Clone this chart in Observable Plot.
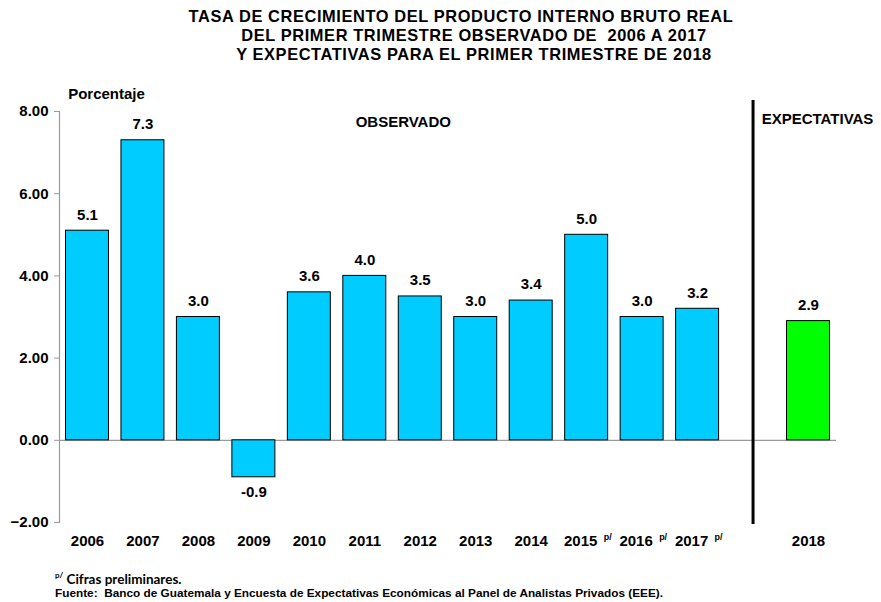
<!DOCTYPE html>
<html><head><meta charset="utf-8">
<script src="https://cdn.jsdelivr.net/npm/d3@7"></script>
<script src="https://cdn.jsdelivr.net/npm/@observablehq/plot@0.6"></script>
<style>
body{margin:0;background:#fff;font-family:"Liberation Sans",Arial,sans-serif;width:881px;height:602px;overflow:hidden;}
#title{height:66px;box-sizing:border-box;padding-top:7px;font-weight:bold;font-size:16.4px;line-height:19px;letter-spacing:0.6px;color:#000;}
#title div{text-align:center;white-space:pre;}
#chart svg{display:block;}
#caption{padding-left:55px;padding-top:12px;color:#000;font-weight:bold;}
#caption .l1{font-family:Lato,"Liberation Sans",sans-serif;font-size:13.5px;line-height:14px;}
#caption .l1 sup{font-size:8px;}
#caption .l2{font-size:11.8px;line-height:14px;}
</style>
</head><body>
<div id="title">
<div style="padding-left:41px">TASA DE CRECIMIENTO DEL PRODUCTO INTERNO BRUTO REAL</div>
<div style="padding-left:67px">DEL PRIMER TRIMESTRE OBSERVADO DE  2006 A 2017</div>
<div style="padding-left:67px">Y EXPECTATIVAS PARA EL PRIMER TRIMESTRE DE 2018</div>
</div>
<div id="chart"></div>
<div id="caption">
<div class="l1"><sup>p/</sup> Cifras preliminares.</div>
<div class="l2">Fuente:&nbsp; Banco de Guatemala y Encuesta de Expectativas Económicas al Panel de Analistas Privados (EEE).</div>
</div>
<script>
const years = ["2006","2007","2008","2009","2010","2011","2012","2013","2014","2015","2016","2017"];
const observed = [5.1, 7.3, 3.0, -0.9, 3.6, 4.0, 3.5, 3.0, 3.4, 5.0, 3.0, 3.2];
const expYears = ["2018"];
const expected = [2.9];
const preliminary = ["2015","2016","2017"];
const gapSlot = " ";
const yTicks = [-2, 0, 2, 4, 6, 8];

const obsData = years.map((y, i) => ({year: y, value: observed[i]}));
const expData = expYears.map((y, i) => ({year: y, value: expected[i]}));
const allData = [...obsData, ...expData];
const labelYears = [...years, ...expYears];

const font = "Liberation Sans, Arial, sans-serif";
const chart = Plot.plot({
  width: 881, height: 490,
  marginTop: 45, marginBottom: 34, marginLeft: 59, marginRight: 45,
  x: {domain: [...years, gapSlot, ...expYears], paddingInner: 0.225, paddingOuter: 0.117, round: false, axis: null},
  y: {domain: [-2, 8], axis: null},
  style: {fontFamily: font, fontWeight: "bold", fontSize: "15px", color: "#000", background: "#fff"},
  marks: [
    Plot.ruleY([0], {stroke: "#9a9a9a", strokeWidth: 1.2}),
    Plot.barY(obsData, {x: "year", y: "value", fill: "#00CCFF", stroke: "#000", strokeWidth: 1}),
    Plot.barY(expData, {x: "year", y: "value", fill: "#00FF00", stroke: "#000", strokeWidth: 1}),
    Plot.axisY({ticks: yTicks, tickFormat: d3.format(".2f"), tickSize: 5, tickPadding: 6, stroke: "#9a9a9a", fill: "#000", fontSize: 15, fontWeight: "bold", label: null}),
    Plot.frame({anchor: "left", stroke: "#9a9a9a", strokeWidth: 1.2}),
    Plot.ruleX([gapSlot], {x: d => d, y1: 8.27, y2: -2.05, stroke: "#000", strokeWidth: 3}),
    Plot.text(allData.filter(d => d.value >= 0), {x: "year", y: "value", text: d => d.value.toFixed(1), dy: -16, fontSize: 15, fontWeight: "bold", fill: "#000"}),
    Plot.text(allData.filter(d => d.value < 0), {x: "year", y: "value", text: d => d.value.toFixed(1), dy: 15, fontSize: 15, fontWeight: "bold", fill: "#000"}),
    Plot.text(labelYears.filter(y => !preliminary.includes(y)), {x: d => d, y: () => -2, text: d => d, dy: 19, fontSize: 15, fontWeight: "bold", fill: "#000"}),
    Plot.text(preliminary, {x: d => d, y: () => -2, text: d => d, dy: 19, dx: -6, fontSize: 15, fontWeight: "bold", fill: "#000"}),
    Plot.text(preliminary, {x: d => d, y: () => -2, text: () => "p/", dy: 15, dx: 21, fontSize: 9, fontWeight: "bold", fill: "#000"}),
    Plot.text(["OBSERVADO"], {x: () => "2012", y: () => 7.75, text: d => d, dx: -17, fontSize: 15, fontWeight: "bold", fill: "#000"}),
    Plot.text(["EXPECTATIVAS"], {x: () => "2018", y: () => 7.82, text: d => d, dx: 9, fontSize: 15, fontWeight: "bold", fill: "#000", letterSpacing: "-0.3px"}),
    Plot.text(["Porcentaje"], {x: () => "2006", y: () => 8.41, text: d => d, dx: 19, fontSize: 15, fontWeight: "bold", fill: "#000"})
  ]
});
document.getElementById("chart").appendChild(chart);
</script>
</body></html>
